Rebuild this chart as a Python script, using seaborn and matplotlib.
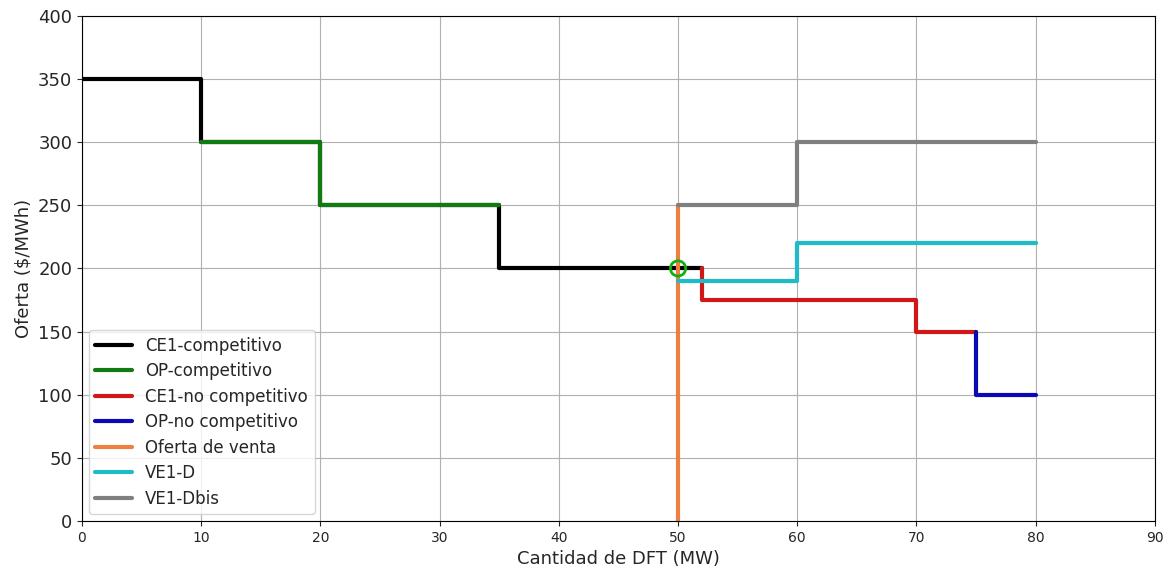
import matplotlib
matplotlib.use("Agg")
import matplotlib.pyplot as plt
import seaborn as sns
import pandas as pd

sns.set_style("ticks")
plt.rcParams['font.family'] = ['DejaVu Sans']

# Data
ce1_comp_x = [0, 10, 10, 20, 20, 35, 35, 52]
ce1_comp_y = [350, 350, 300, 300, 250, 250, 200, 200]
op_comp_x = [10, 20, 20, 35]
op_comp_y = [300, 300, 250, 250]
ce1_nocomp_x = [52, 52, 70, 70, 75]
ce1_nocomp_y = [200, 175, 175, 150, 150]
op_nocomp_x = [75, 75, 80]
op_nocomp_y = [150, 100, 100]
oferta_x = [50, 50]
oferta_y = [0, 250]
ve1d_x = [50, 60, 60, 80]
ve1d_y = [190, 190, 220, 220]
ve1dbis_x = [50, 60, 60, 80]
ve1dbis_y = [250, 250, 300, 300]
eq_x = [50]
eq_y = [200]

series = [
    ("CE1-competitivo", ce1_comp_x, ce1_comp_y, "black"),
    ("OP-competitivo", op_comp_x, op_comp_y, "#127a12"),
    ("CE1-no competitivo", ce1_nocomp_x, ce1_nocomp_y, "#d01818"),
    ("OP-no competitivo", op_nocomp_x, op_nocomp_y, "#0a0ab4"),
    ("Oferta de venta", oferta_x, oferta_y, "#ec8040"),
    ("VE1-D", ve1d_x, ve1d_y, "#1fbcc8"),
    ("VE1-Dbis", ve1dbis_x, ve1dbis_y, "#7f7f7f"),
]

fig = plt.figure(figsize=(11.63, 5.72), dpi=100)
ax = fig.add_axes([0.0705, 0.0892, 0.9225, 0.883])

for label, xs, ys, c in series:
    df = pd.DataFrame({"x": xs, "y": ys})
    sns.lineplot(data=df, x="x", y="y", sort=False, estimator=None,
                 color=c, linewidth=3, label=label, ax=ax)

ax.scatter(eq_x, eq_y, s=120, facecolors='none', edgecolors='#10b010',
           linewidths=2, zorder=5)

ax.set_xlim(0, 90)
ax.set_ylim(0, 400)
ax.set_xticks(range(0, 91, 10))
ax.set_yticks(range(0, 401, 50))
ax.tick_params(axis='x', labelsize=10)
ax.tick_params(axis='y', labelsize=13)
ax.grid(True, color='#b0b0b0', linewidth=0.8)
for s in ax.spines.values():
    s.set_color('black')
ax.set_xlabel("Cantidad de DFT (MW)", fontsize=13)
ax.set_ylabel(r"Oferta (\$/MWh)", fontsize=13)
ax.legend(loc="lower left", fontsize=12, frameon=True, handlelength=2.2,
          labelspacing=0.45, borderaxespad=0.4)

fig.savefig("out.png", dpi=100)
